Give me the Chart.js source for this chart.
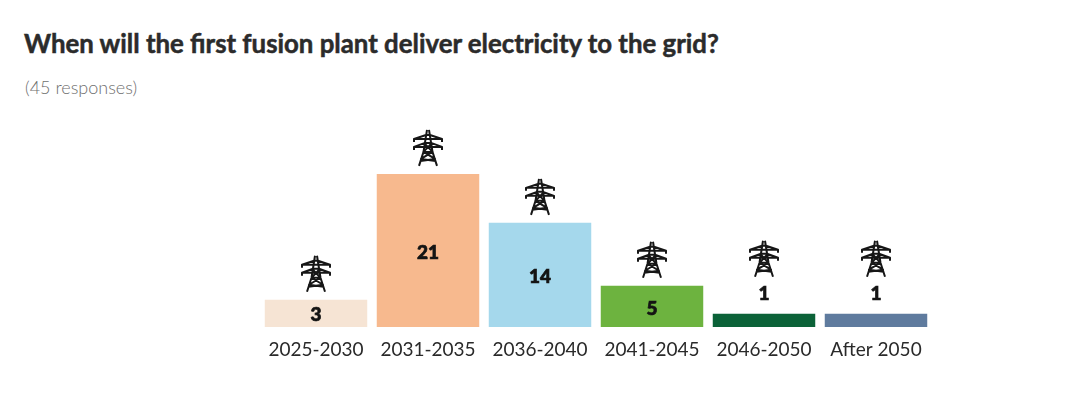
<!DOCTYPE html>
<html lang="en">
<head>
    <meta charset="UTF-8">
    <title>Fusion plant survey</title>
    <script src="https://cdn.jsdelivr.net/npm/chart.js"></script>
    <style>
        body { margin: 0; background: #ffffff; width: 1080px; height: 410px; overflow: hidden; position: relative; }
        h1 { position: absolute; left: 24px; top: 28px; margin: 0; font: 700 25.8px 'Lato', sans-serif; -webkit-text-stroke: 0.5px #2b2b2b; color: #2b2b2b; white-space: nowrap; }
        p { position: absolute; left: 25px; top: 76px; margin: 0; font: 300 18px 'Lato', sans-serif; color: #6f6f6f; white-space: nowrap; }
        #chart { position: absolute; left: 0; top: 0; }
    </style>
</head>
<body>
    <h1>When will the first fusion plant deliver electricity to the grid?</h1>
    <p>(45 responses)</p>
    <canvas id="chart" width="1080" height="410"></canvas>

    <script>
        const categories = ['2025-2030', '2031-2035', '2036-2040', '2041-2045', '2046-2050', 'After 2050'];
        const responses = [3, 21, 14, 5, 1, 1];
        const barColors = ['#f6e4d4', '#f7b98e', '#a5d8ec', '#6db33f', '#0b6238', '#5f7b9e'];

        // pylon icon, 28 wide and 38 tall, cx = middle, top = apex
        function drawPylon(ctx, cx, top) {
            ctx.save();
            ctx.translate(cx, top);
            ctx.strokeStyle = '#161616';
            ctx.lineJoin = 'round';
            ctx.lineWidth = 2;
            ctx.beginPath();
            // mast and legs
            ctx.moveTo(-1, 1); ctx.lineTo(-4.5, 23); ctx.lineTo(-9, 37);
            ctx.moveTo(1, 1); ctx.lineTo(4.5, 23); ctx.lineTo(9, 37);
            // upper arm
            ctx.moveTo(-14, 13); ctx.lineTo(-14, 10); ctx.lineTo(-2, 6); ctx.lineTo(2, 6); ctx.lineTo(14, 10); ctx.lineTo(14, 13);
            ctx.moveTo(-14, 10); ctx.lineTo(14, 10);
            // lower arm
            ctx.moveTo(-14, 21); ctx.lineTo(-14, 18); ctx.lineTo(-3, 14); ctx.lineTo(3, 14); ctx.lineTo(14, 18); ctx.lineTo(14, 21);
            ctx.moveTo(-14, 18); ctx.lineTo(14, 18);
            // bracing
            ctx.moveTo(-4, 14); ctx.lineTo(4.5, 23); ctx.lineTo(-7, 30); ctx.lineTo(7.5, 32);
            ctx.moveTo(4, 14); ctx.lineTo(-4.5, 23); ctx.lineTo(7, 30); ctx.lineTo(-7.5, 32);
            ctx.moveTo(-4.5, 23); ctx.lineTo(4.5, 23);
            ctx.stroke();
            ctx.restore();
        }

        // value labels and pylons, placed from the bars the library laid out
        const barDecorations = {
            id: 'barDecorations',
            afterDatasetsDraw(chart) {
                const ctx = chart.ctx;
                const baseY = chart.scales.y.getPixelForValue(-0.9);
                chart.getDatasetMeta(0).data.forEach((bar, i) => {
                    const tall = baseY - bar.y > 20;
                    const labelY = tall ? (bar.y + baseY) / 2 + 2 : bar.y - 20;
                    ctx.save();
                    ctx.fillStyle = '#141414';
                    ctx.strokeStyle = '#141414';
                    ctx.lineWidth = 0.7;
                    ctx.font = "900 19px 'Lato', sans-serif";
                    ctx.textAlign = 'center';
                    ctx.textBaseline = 'middle';
                    ctx.fillText(responses[i], bar.x, labelY);
                    ctx.strokeText(responses[i], bar.x, labelY);
                    ctx.restore();
                    drawPylon(ctx, bar.x, tall ? bar.y - 45 : bar.y - 74);
                });
            }
        };

        new Chart(document.getElementById('chart'), {
            type: 'bar',
            data: {
                labels: categories,
                datasets: [{
                    data: responses,
                    backgroundColor: barColors,
                    base: -0.9,
                    barPercentage: 0.915,
                    categoryPercentage: 1
                }]
            },
            options: {
                responsive: false,
                animation: false,
                layout: { padding: { left: 260, right: 148, top: 125, bottom: 0 } },
                plugins: { legend: { display: false }, tooltip: { enabled: false } },
                scales: {
                    x: {
                        grid: { display: false, drawTicks: false },
                        border: { display: false },
                        ticks: { color: '#2a2a2a', padding: 11, maxRotation: 0, font: { family: 'Lato', size: 19 } },
                        afterFit(scale) { scale.height = 83; }
                    },
                    y: { display: false, min: -0.9, max: 28 }
                }
            },
            plugins: [barDecorations]
        });
    </script>
</body>
</html>
